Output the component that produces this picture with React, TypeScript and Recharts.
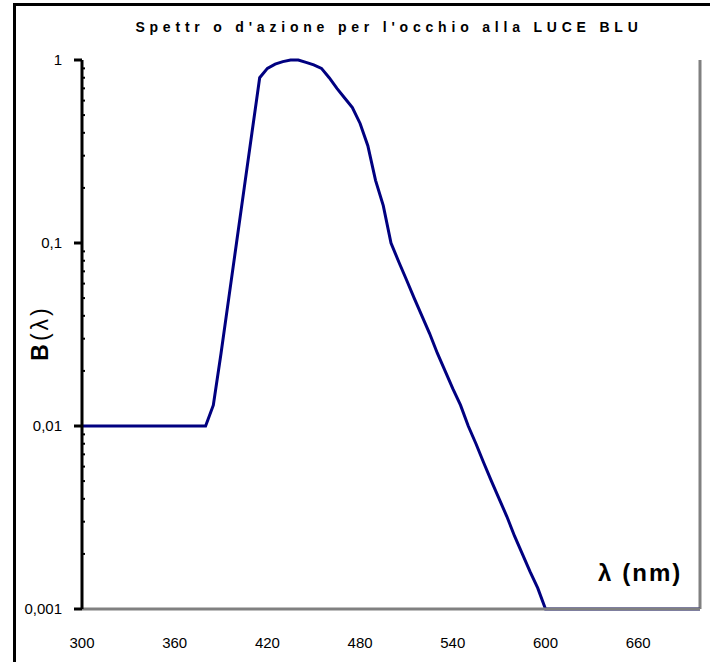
import React from "react";
import { LineChart, Line, XAxis, YAxis, ReferenceLine } from "recharts";

// ---- data ----
const WAVELENGTHS: number[] = [
  300, 305, 310, 315, 320, 325, 330, 335, 340, 345, 350, 355, 360, 365, 370, 375, 380,
  385, 390, 395, 400, 405, 410, 415, 420, 425, 430, 435, 440, 445, 450, 455, 460, 465,
  470, 475, 480, 485, 490, 495, 500, 505, 510, 515, 520, 525, 530, 535, 540, 545, 550,
  555, 560, 565, 570, 575, 580, 585, 590, 595, 600, 620, 640, 660, 680, 700,
];
const B_VALUES: number[] = [
  0.01, 0.01, 0.01, 0.01, 0.01, 0.01, 0.01, 0.01, 0.01, 0.01, 0.01, 0.01, 0.01, 0.01, 0.01, 0.01, 0.01,
  0.013, 0.025, 0.05, 0.1, 0.2, 0.4, 0.8, 0.9, 0.95, 0.98, 1.0, 1.0, 0.97, 0.94, 0.9, 0.8, 0.7,
  0.62, 0.55, 0.45, 0.34, 0.22, 0.16, 0.1, 0.079, 0.063, 0.05, 0.04, 0.032, 0.025, 0.02, 0.016, 0.013, 0.01,
  0.008, 0.0063, 0.005, 0.004, 0.0032, 0.0025, 0.002, 0.0016, 0.0013, 0.001, 0.001, 0.001, 0.001, 0.001, 0.001,
];
const X_LABEL_TICKS: number[] = [300, 360, 420, 480, 540, 600, 660];
const X_TOP_TICKS: number[] = [350, 400, 450, 500, 550, 600, 650, 700];
const Y_MAJOR_TICKS: number[] = [0.001, 0.01, 0.1, 1];
const Y_MAJOR_LABELS: string[] = ["0,001", "0,01", "0,1", "1"];
const MINOR_MULTIPLIERS: number[] = [2, 3, 4, 5, 6, 7, 8, 9];

const TITLE = "Spettr o d'azione per l'occhio alla LUCE BLU";
const X_TITLE_SYMBOL = "λ";
const X_TITLE_UNIT = "(nm)";
const Y_TITLE_B = "B";
const Y_TITLE_REST = "(λ)";

const data = WAVELENGTHS.map((nm, i) => ({ nm, b: B_VALUES[i] }));
const yTicks: number[] = [...Y_MAJOR_TICKS];
Y_MAJOR_TICKS.slice(0, 3).forEach((d) =>
  MINOR_MULTIPLIERS.forEach((m) => yTicks.push(d * m))
);

const FONT = "'Liberation Sans', Arial, sans-serif";

const majorIndex = (v: number) =>
  Y_MAJOR_TICKS.findIndex((t) => Math.abs(t - v) / t < 1e-6);

const YTick = (props: any) => {
  const { x, y, payload } = props;
  const idx = majorIndex(payload.value);
  if (idx >= 0) {
    return (
      <g>
        <line x1={x - 8} x2={x} y1={y} y2={y} stroke="#000" strokeWidth={3} />
        <text
          x={x - 20}
          y={y + 5}
          textAnchor="end"
          fontFamily={FONT}
          fontSize={15}
          fill="#000"
        >
          {Y_MAJOR_LABELS[idx]}
        </text>
      </g>
    );
  }
  return <line x1={x} x2={x + 3} y1={y} y2={y} stroke="#000" strokeWidth={2} />;
};

const XTick = (props: any) => {
  const { x, y, payload } = props;
  return (
    <text x={x} y={y + 39} textAnchor="middle" fontFamily={FONT} fontSize={15} fill="#000">
      {payload.value}
    </text>
  );
};

const TopTick = (props: any) => {
  const { x, y } = props;
  return <line x1={x} x2={x} y1={y} y2={y + 7} stroke="#000" strokeWidth={3} />;
};

export default function App() {
  return (
    <div style={{ position: "absolute", left: 0, top: 0, width: 710, height: 662, background: "#fff", overflow: "hidden" }}>
      <LineChart
        width={710}
        height={662}
        data={data}
        margin={{ top: 60, right: 10, bottom: 0, left: 0 }}
      >
        <XAxis
          dataKey="nm"
          type="number"
          domain={[300, 700]}
          ticks={X_LABEL_TICKS}
          interval={0}
          height={53}
          axisLine={{ stroke: "#808080", strokeWidth: 3 }}
          tickLine={false}
          tickSize={0}
          tickMargin={0}
          tick={<XTick />}
        />
        <XAxis
          xAxisId="top"
          dataKey="nm"
          type="number"
          orientation="top"
          domain={[300, 700]}
          ticks={X_TOP_TICKS}
          interval={0}
          height={0}
          axisLine={{ stroke: "#000", strokeWidth: 3 }}
          tickLine={false}
          tickSize={0}
          tickMargin={0}
          tick={<TopTick />}
        />
        <YAxis
          type="number"
          scale="log"
          domain={[0.001, 1]}
          ticks={yTicks}
          interval={0}
          width={82}
          axisLine={{ stroke: "#000", strokeWidth: 3 }}
          tickLine={false}
          tickSize={0}
          tickMargin={0}
          tick={<YTick />}
        />
        <ReferenceLine x={700} stroke="#808080" strokeWidth={3} />
        <Line
          type="linear"
          dataKey="b"
          stroke="#000080"
          strokeWidth={3}
          dot={false}
          isAnimationActive={false}
        />
      </LineChart>
      <svg
        width={710}
        height={662}
        style={{ position: "absolute", left: 0, top: 0, pointerEvents: "none" }}
      >
        <rect x={14.5} y={4.5} width={800} height={800} fill="none" stroke="#000" strokeWidth={3} />
        <text
          x={389}
          y={32}
          textAnchor="middle"
          fontFamily={FONT}
          fontWeight="bold"
          fontSize={14}
          letterSpacing={4.8}
          fill="#000"
        >
          {TITLE}
        </text>
        <text
          x={598}
          y={581}
          fontFamily={FONT}
          fontWeight="bold"
          fontSize={24}
          letterSpacing={2}
          fill="#000"
        >
          <tspan>{X_TITLE_SYMBOL}</tspan>
          <tspan dx={9}>{X_TITLE_UNIT}</tspan>
        </text>
        <text
          transform="translate(48, 333) rotate(-90)"
          textAnchor="middle"
          fontFamily={FONT}
          fontSize={23}
          letterSpacing={3}
          fill="#000"
        >
          <tspan fontWeight="bold">{Y_TITLE_B}</tspan>
          <tspan>{Y_TITLE_REST}</tspan>
        </text>
      </svg>
    </div>
  );
}
